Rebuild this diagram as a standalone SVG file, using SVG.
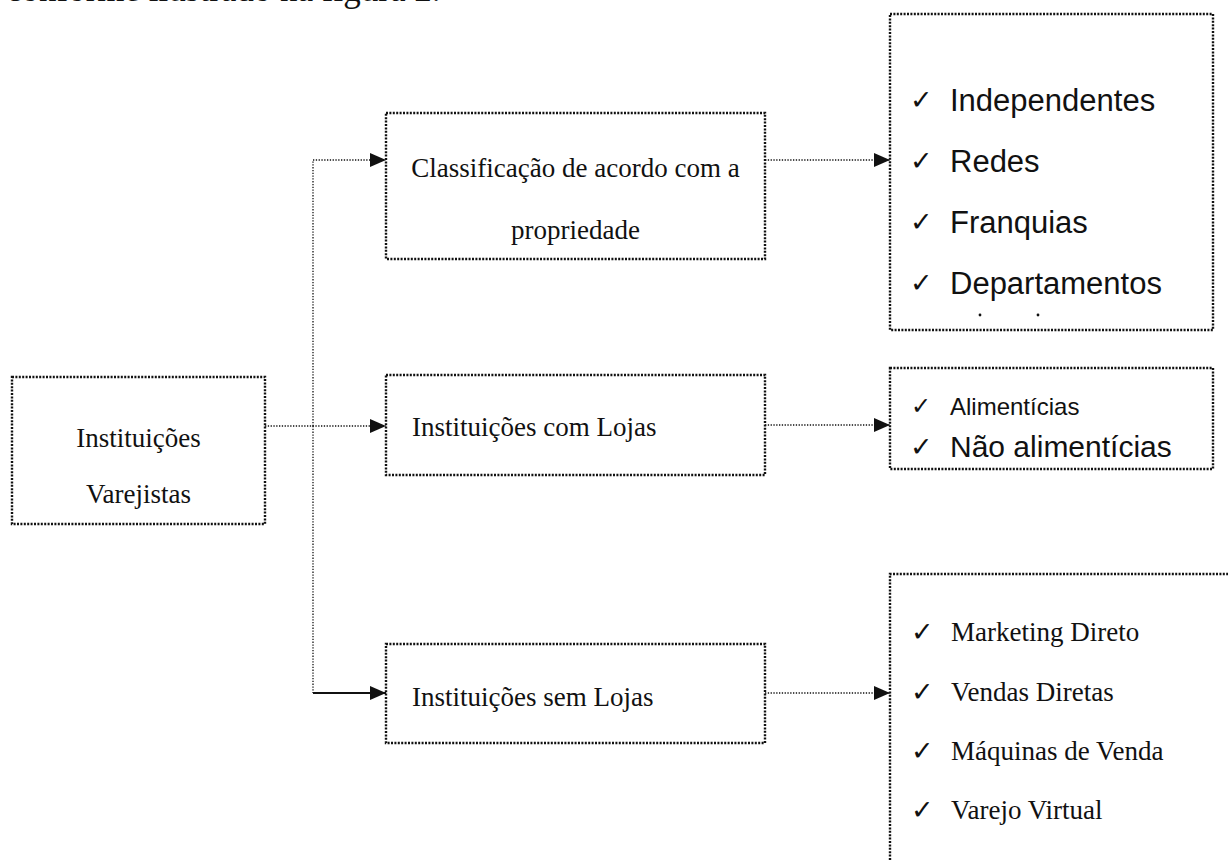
<svg xmlns="http://www.w3.org/2000/svg" width="1228" height="860" viewBox="0 0 1228 860">
<style>
.box{fill:none;stroke:#111;stroke-width:2.4;stroke-dasharray:2 1.4}
.con{fill:none;stroke:#111;stroke-width:1.3;stroke-dasharray:1.3 1.5}
.solid{fill:none;stroke:#111;stroke-width:2}
.serif{font-family:"Liberation Serif","Times New Roman",serif;font-size:27px;fill:#111}
.sans{font-family:"Liberation Sans",Arial,sans-serif;font-size:31px;fill:#111}
.chk{font-family:"DejaVu Sans",sans-serif;font-size:27px;fill:#111}
</style>
<defs>
<marker id="arr" markerWidth="16" markerHeight="14" refX="16" refY="7" orient="auto" markerUnits="userSpaceOnUse">
<path d="M0,0 L16,7 L0,14 Z" fill="#111"/>
</marker>
</defs>
<rect width="1228" height="860" fill="#fff"/>
<text x="6" y="1" style="font-family:'Liberation Serif',serif;font-size:35px;fill:#111">conforme ilustrado na figura 2.</text>

<g id="connectors">
<path class="con" d="M265,426 H386" marker-end="url(#arr)"/>
<path class="con" d="M313,426 V160 H386" marker-end="url(#arr)"/>
<path class="con" d="M313,426 V693"/>
<path class="solid" d="M313,693 H386" marker-end="url(#arr)"/>
<path class="con" d="M765,160 H890" marker-end="url(#arr)"/>
<path class="con" d="M765,425 H890" marker-end="url(#arr)"/>
<path class="con" d="M765,693 H890" marker-end="url(#arr)"/>
</g>

<g id="node-varejistas">
<rect class="box" x="12" y="377" width="253" height="147"/>
<text class="serif" x="138.5" y="447" text-anchor="middle">Instituições</text>
<text class="serif" x="138.5" y="503" text-anchor="middle">Varejistas</text>
</g>

<g id="node-classificacao">
<rect class="box" x="386" y="113" width="379" height="146"/>
<text class="serif" x="575.5" y="177" text-anchor="middle">Classificação de acordo com a</text>
<text class="serif" x="575.5" y="239" text-anchor="middle">propriedade</text>
</g>

<g id="node-com-lojas">
<rect class="box" x="386" y="375" width="379" height="100"/>
<text class="serif" x="412" y="436">Instituições com Lojas</text>
</g>

<g id="node-sem-lojas">
<rect class="box" x="386" y="644" width="379" height="99"/>
<text class="serif" x="412" y="706">Instituições sem Lojas</text>
</g>

<g id="node-propriedade-lista">
<rect class="box" x="890" y="14" width="323" height="316"/>
<text class="chk" x="910" y="109">✓</text><text class="sans" x="950" y="111">Independentes</text>
<text class="chk" x="910" y="170">✓</text><text class="sans" x="950" y="172">Redes</text>
<text class="chk" x="910" y="231">✓</text><text class="sans" x="950" y="233">Franquias</text>
<text class="chk" x="910" y="292">✓</text><text class="sans" x="950" y="294">Departamentos</text>
<circle cx="980" cy="315" r="1.4" fill="#111"/>
<circle cx="1038" cy="315" r="1.4" fill="#111"/>
</g>

<g id="node-lojas-lista">
<rect class="box" x="890" y="368" width="323" height="101"/>
<text class="chk" x="911" y="414" style="font-size:24px">✓</text><text class="sans" x="950" y="415" style="font-size:24px">Alimentícias</text>
<text class="chk" x="910" y="456">✓</text><text class="sans" x="950" y="457" style="font-size:30px">Não alimentícias</text>
</g>

<g id="node-sem-lojas-lista">
<path class="box" d="M890,860 V574 H1230"/>
<text class="chk" x="911" y="641">✓</text><text class="serif" x="951" y="641">Marketing Direto</text>
<text class="chk" x="911" y="701">✓</text><text class="serif" x="951" y="701">Vendas Diretas</text>
<text class="chk" x="911" y="760">✓</text><text class="serif" x="951" y="760">Máquinas de Venda</text>
<text class="chk" x="911" y="819">✓</text><text class="serif" x="951" y="819">Varejo Virtual</text>
</g>
</svg>
